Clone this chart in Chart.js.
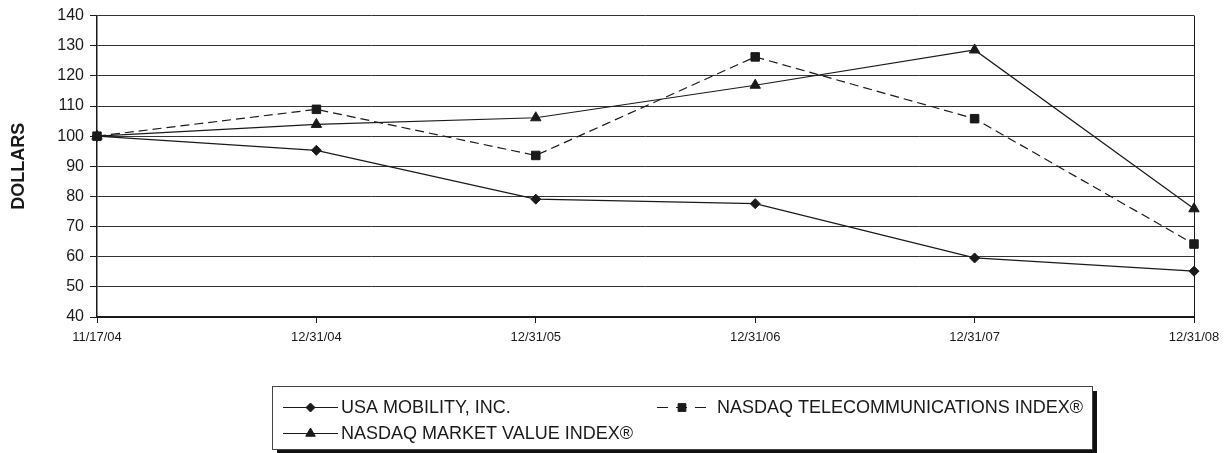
<!DOCTYPE html>
<html>
<head>
<meta charset="utf-8">
<script src="https://cdn.jsdelivr.net/npm/chart.js@4.4.1/dist/chart.umd.min.js"></script>
<style>
  html, body { margin: 0; padding: 0; background: #fff; }
  #wrap { width: 1230px; height: 453px; position: relative; }
</style>
</head>
<body>
<div id="wrap"><canvas id="chart"></canvas></div>
<script>
// dates on the x axis
const dates = ['11/17/04', '12/31/04', '12/31/05', '12/31/06', '12/31/07', '12/31/08'];

// cumulative value of $100 invested
const usaMobility = [100, 95.3, 79.1, 77.6, 59.6, 55.2];
const nasdaqTelecom = [100, 108.9, 93.6, 126.3, 105.8, 64.2];
const nasdaqMarket = [100, 103.9, 106.1, 116.9, 128.6, 75.9];

const seriesNames = ['USA MOBILITY, INC.', 'NASDAQ TELECOMMUNICATIONS INDEX®', 'NASDAQ MARKET VALUE INDEX®'];

const FONT = 'Arial, "Liberation Sans", Helvetica, sans-serif';
const INK = '#1a1a1a';

// boxed legend with a drop shadow, two columns
const boxLegend = {
  id: 'boxLegend',
  afterDraw(chart) {
    const ctx = chart.ctx;
    const x = 272, y = 386, w = 820, h = 63;
    ctx.save();
    ctx.fillStyle = '#111';
    ctx.fillRect(x + 5, y + 5, w, h);
    ctx.fillStyle = '#fff';
    ctx.fillRect(x, y, w, h);
    ctx.strokeStyle = '#444';
    ctx.lineWidth = 1;
    ctx.strokeRect(x + 0.5, y + 0.5, w, h);

    const slots = [
      { sx: 283, ex: 338, ty: 407, tx: 341 },
      { sx: 657, ex: 707, ty: 407, tx: 717 },
      { sx: 283, ex: 338, ty: 433, tx: 341 }
    ];
    chart.data.datasets.forEach((ds, i) => {
      const s = slots[i];
      ctx.strokeStyle = INK;
      ctx.lineWidth = 1;
      ctx.setLineDash(ds.borderDash ? [11, 8] : []);
      ctx.beginPath();
      ctx.moveTo(s.sx, s.ty + 0.5);
      ctx.lineTo(s.ex, s.ty + 0.5);
      ctx.stroke();
      ctx.setLineDash([]);
      ctx.fillStyle = INK;
      Chart.helpers.drawPoint(ctx, {
        pointStyle: ds.pointStyle,
        radius: ds.pointRadius - 0.5,
        rotation: 0,
        borderWidth: 1
      }, (s.sx + s.ex) / 2, s.ty + 0.5);
      ctx.fillStyle = INK;
      ctx.font = '18px ' + FONT;
      ctx.textBaseline = 'middle';
      ctx.textAlign = 'left';
      ctx.fillText(ds.label, s.tx, s.ty + 1);
    });
    ctx.restore();
  }
};

const common = {
  borderColor: INK,
  backgroundColor: INK,
  pointBackgroundColor: INK,
  pointBorderColor: INK,
  borderWidth: 1.2,
  pointBorderWidth: 1,
  tension: 0,
  fill: false
};

new Chart(document.getElementById('chart'), {
  type: 'line',
  data: {
    labels: dates,
    datasets: [
      Object.assign({ label: seriesNames[0], data: usaMobility, pointStyle: 'rectRot', pointRadius: 5 }, common),
      Object.assign({ label: seriesNames[1], data: nasdaqTelecom, pointStyle: 'rect', pointRadius: 6, borderDash: [9, 5] }, common),
      Object.assign({ label: seriesNames[2], data: nasdaqMarket, pointStyle: 'triangle', pointRadius: 6 }, common)
    ]
  },
  options: {
    responsive: true,
    maintainAspectRatio: false,
    animation: false,
    layout: { padding: { top: 15, right: 36, left: 0, bottom: 0 } },
    plugins: {
      legend: { display: false },
      tooltip: { enabled: false }
    },
    scales: {
      x: {
        offset: false,
        border: { display: true, color: INK, width: 2 },
        grid: {
          drawOnChartArea: true,
          color: ctx => ctx.index === dates.length - 1 ? INK : 'rgba(0,0,0,0)',
          tickColor: INK,
          tickLength: 6,
          lineWidth: 1
        },
        ticks: {
          color: INK,
          font: { family: FONT, size: 13 },
          padding: 7,
          maxRotation: 0,
          autoSkip: false
        },
        afterFit: scale => { scale.height = 136; }
      },
      y: {
        min: 40,
        max: 140,
        border: { display: true, color: INK, width: 1.5 },
        grid: {
          color: '#333',
          tickColor: INK,
          tickLength: 7,
          lineWidth: 1
        },
        ticks: {
          stepSize: 10,
          color: INK,
          font: { family: FONT, size: 16 },
          padding: 6
        },
        title: {
          display: true,
          text: 'DOLLARS',
          color: INK,
          font: { family: FONT, size: 18, weight: 'bold' },
          padding: { top: 8, bottom: 0 }
        },
        afterFit: scale => { scale.width = 97; }
      }
    }
  },
  plugins: [boxLegend]
});
</script>
</body>
</html>
